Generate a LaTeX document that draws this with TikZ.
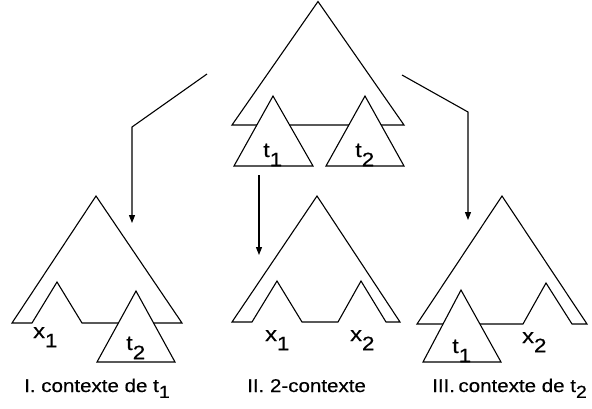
\documentclass[tikz,border=0pt]{standalone}
\usepackage{fontspec}
\setmainfont{Liberation Sans}[FakeBold=0.3]
\usetikzlibrary{arrows.meta}
\newcommand\capfont{\fontsize{18.5}{18.5}\selectfont}
\newcommand\labfont{\fontsize{20.5}{20.5}\selectfont}
\newcommand\lwid[1]{\scalebox{1.15}[1]{#1}}
\newcommand\cwid[1]{\scalebox{1.11}[1]{#1}}
\newcommand\lsub[1]{\raisebox{-0.45em}{\fontsize{19.5}{19.5}\selectfont #1}}
\newcommand\csub[1]{\raisebox{-0.32em}{\fontsize{17.5}{17.5}\selectfont #1}}
\begin{document}
\begin{tikzpicture}[x=1pt,y=-1pt,
  shp/.style={draw=black,line width=1.1pt,line join=miter,fill=white},
  arr/.style={draw=black,line width=1.1pt,-{Triangle[length=8pt,width=6pt]}},
  lab/.style={anchor=base west,inner sep=0pt,font=\labfont},
  captxt/.style={anchor=base west,inner sep=0pt,font=\capfont}]
\useasboundingbox (0,0) rectangle (592,408);
% top tree
\path[shp] (232,125) -- (318,1.5) -- (404,125) -- cycle;
\path[shp] (273,96) -- (234,166) -- (313,166) -- cycle;
\path[shp] (365,96) -- (326,166) -- (404,166) -- cycle;
\node[lab] (tt1) at (263,157) {\lwid{t\lsub{1}}};
\node[lab] (tt2) at (355,157) {\lwid{t\lsub{2}}};
% bottom left
\path[shp] (12,323) -- (96,196) -- (182,323) -- (82,323) -- (57,282) -- (32,323) -- cycle;
\path[shp] (136,291) -- (97,362) -- (175,362) -- cycle;
\node[lab] (lx1) at (33,338) {\lwid{x\lsub{1}}};
\node[lab] (lt2) at (126,350) {\lwid{t\lsub{2}}};
% bottom middle
\path[shp] (232,322) -- (317,196) -- (400,322) -- (386,322) -- (361,281) -- (338,322) -- (302,322) -- (277,281) -- (252,322) -- cycle;
\node[lab] (mx1) at (265,341) {\lwid{x\lsub{1}}};
\node[lab] (mx2) at (350,341) {\lwid{x\lsub{2}}};
% bottom right
\path[shp] (417,324) -- (502,196) -- (587,324) -- (572,324) -- (546,283) -- (523,324) -- cycle;
\path[shp] (461,290) -- (423,362) -- (501,362) -- cycle;
\node[lab] (rt1) at (452,353) {\lwid{t\lsub{1}}};
\node[lab] (rx2) at (522,343) {\lwid{x\lsub{2}}};
% captions
\node[captxt] (c1) at (24,392) {\cwid{I. contexte de t\csub{1}}};
\node[captxt] (c2) at (247,392) {\cwid{II. 2-contexte}};
\node[captxt] (c3) at (432,392) {\cwid{III.\,contexte de t\csub{2}}};
% arrows
\coordinate (a1s) at (207,74);
\coordinate (a1b) at (132,127);
\coordinate (a1e) at (132,223);
\coordinate (a2s) at (259,175);
\coordinate (a2e) at (259,255);
\coordinate (a3s) at (402,75);
\coordinate (a3b) at (468,112);
\coordinate (a3e) at (468,220);
\draw[arr] (a1s) -- (a1b) -- (a1e);
\draw[arr] (a2s) -- (a2e);
\draw[arr] (a3s) -- (a3b) -- (a3e);
\end{tikzpicture}
\end{document}
